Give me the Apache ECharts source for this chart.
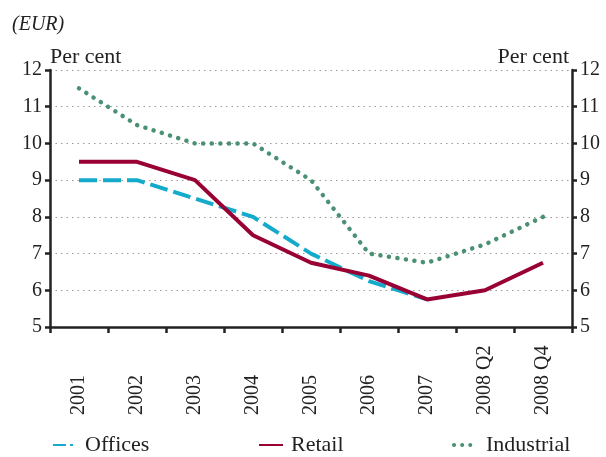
<!DOCTYPE html>
<html>
<head>
<meta charset="utf-8">
<script src="https://cdn.jsdelivr.net/npm/echarts@6/dist/echarts.min.js"></script>
<style>
  html, body { margin: 0; padding: 0; background: #fff; }
  #chart { width: 606px; height: 457px; }
</style>
</head>
<body>
<div id="chart"></div>
<script>
var categories = ['2001', '2002', '2003', '2004', '2005', '2006', '2007', '2008 Q2', '2008 Q4'];
var offices = [9.0, 9.0, 8.5, 8.0, 7.0, 6.25, 5.75, null, null];
var retail = [9.5, 9.5, 9.0, 7.5, 6.75, 6.4, 5.75, 6.0, 6.75];
var industrial = [11.5, 10.5, 10.0, 10.0, 9.0, 7.0, 6.75, 7.25, 8.0];

var serif = '"Liberation Serif", "DejaVu Serif", serif';
var chartDom = document.getElementById('chart');
var myChart = echarts.init(chartDom);

function yAxis(pos) {
  return {
    type: 'value',
    position: pos,
    min: 5,
    max: 12,
    interval: 1,
    axisLine: { show: true, lineStyle: { color: '#222', width: 2.5 } },
    axisTick: { show: true, length: 5, lineStyle: { color: '#222', width: 2.5 } },
    axisLabel: { color: '#222', fontFamily: serif, fontSize: 20, margin: 8 },
    splitLine: { show: pos === 'left', lineStyle: { color: '#999', type: [1.5, 4], width: 1 } }
  };
}

function legendAt(item, left) {
  return {
    data: [item],
    left: left,
    top: 434,
    padding: 0,
    itemWidth: 24,
    itemHeight: 4,
    itemStyle: { opacity: 0 },
    textStyle: { color: '#222', fontFamily: serif, fontSize: 22, padding: [0, 0, 0, 3] }
  };
}

var option = {
  animation: false,
  backgroundColor: '#fff',
  grid: { left: 50, right: 34, top: 70, bottom: 130 },
  title: [
    { text: '(EUR)', left: 7, top: 10, textStyle: { fontFamily: serif, fontStyle: 'italic', fontWeight: 'normal', fontSize: 20, color: '#222' } },
    { text: 'Per cent', left: 45, top: 41, textStyle: { fontFamily: serif, fontWeight: 'normal', fontSize: 22, color: '#222' } },
    { text: 'Per cent', right: 32, top: 41, textStyle: { fontFamily: serif, fontWeight: 'normal', fontSize: 22, color: '#222' } }
  ],
  legend: [
    legendAt({ name: 'Offices', lineStyle: { type: [13, 4, 3, 4] } }, 52),
    legendAt({ name: 'Retail' }, 258),
    legendAt({ name: 'Industrial', lineStyle: { width: 4, type: [0.1, 8], cap: 'round' } }, 452)
  ],
  xAxis: {
    type: 'category',
    boundaryGap: true,
    data: categories,
    axisLine: { lineStyle: { color: '#222', width: 2.5 } },
    axisTick: { show: true, length: 6, lineStyle: { color: '#222', width: 2.5 } },
    axisLabel: {
      rotate: 90,
      align: 'left',
      margin: 88,
      color: '#222',
      fontFamily: serif,
      fontSize: 20,
      interval: 0
    }
  },
  yAxis: [yAxis('left'), yAxis('right')],
  series: [
    {
      name: 'Offices',
      type: 'line',
      data: offices,
      symbol: 'none',
      color: '#14AACB',
      lineStyle: { width: 4, type: [18, 6], color: '#14AACB' }
    },
    {
      name: 'Retail',
      type: 'line',
      data: retail,
      symbol: 'none',
      color: '#990033',
      lineStyle: { width: 4, color: '#990033' }
    },
    {
      name: 'Industrial',
      type: 'line',
      data: industrial,
      symbol: 'none',
      color: '#4A9174',
      lineStyle: { width: 4.5, type: [0.1, 8.5], cap: 'round', color: '#4A9174' }
    }
  ]
};

option && myChart.setOption(option);
</script>
</body>
</html>
